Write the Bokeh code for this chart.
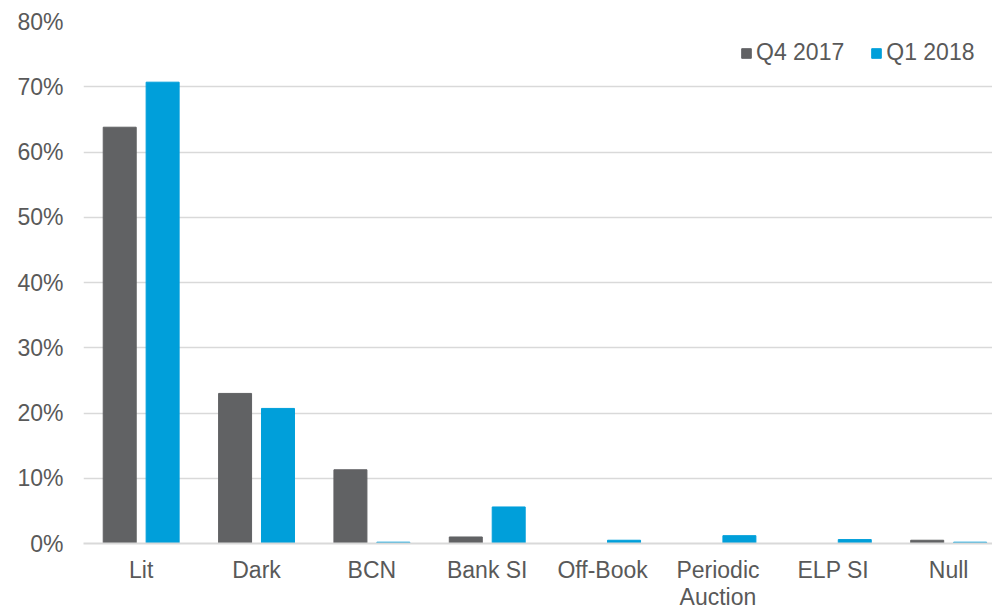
from bokeh.plotting import figure
from bokeh.models import ColumnDataSource, Range1d, FixedTicker, NumeralTickFormatter, Legend, LegendItem
from bokeh.transform import dodge
from bokeh.embed import file_html
from bokeh.resources import INLINE

categories = ["Lit", "Dark", "BCN", "Bank SI", "Off-Book", "Periodic\nAuction", "ELP SI", "Null"]
q4_2017 = [0.638, 0.230, 0.113, 0.010, 0.000, 0.000, 0.000, 0.005]
q1_2018 = [0.707, 0.207, 0.002, 0.056, 0.005, 0.012, 0.006, 0.002]
y_ticks = [0, 0.1, 0.2, 0.3, 0.4, 0.5, 0.6, 0.7, 0.8]
series_names = ["Q4 2017", "Q1 2018"]

GREY = "#616264"
BLUE = "#009FDA"
TEXT = "#595959"
GRID = "#D9D9D9"
FONT = "Liberation Sans"
FS = "23px"

xs = list(range(len(categories)))
src = ColumnDataSource(dict(x=xs, q4=q4_2017, q1=q1_2018))

p = figure(width=992, height=612, output_backend="svg", toolbar_location=None,
           x_range=Range1d(-0.5, 7.38), y_range=Range1d(0, 0.8),
           min_border_left=83, min_border_right=0, min_border_top=21, min_border_bottom=67)
p.outline_line_color = None
p.background_fill_color = "white"
p.border_fill_color = "white"

r1 = p.vbar(x=dodge("x", -0.186), top="q4", width=0.286, source=src,
            fill_color=GREY, line_color=GREY)
r2 = p.vbar(x=dodge("x", 0.186), top="q1", width=0.286, source=src,
            fill_color=BLUE, line_color=BLUE)

p.xgrid.grid_line_color = None
p.ygrid.grid_line_color = GRID
p.ygrid.grid_line_width = 1.3
p.ygrid.level = "underlay"

yax = p.yaxis[0]
yax.ticker = FixedTicker(ticks=y_ticks)
yax.formatter = NumeralTickFormatter(format="0%")
yax.axis_line_color = None
yax.major_tick_line_color = None
yax.minor_tick_line_color = None
yax.major_tick_out = 0
yax.major_tick_in = 0
yax.minor_tick_out = 0
yax.minor_tick_in = 0
yax.major_label_standoff = 20
yax.major_label_text_font = FONT
yax.major_label_text_font_size = FS
yax.major_label_text_color = TEXT

xax = p.xaxis[0]
xax.ticker = FixedTicker(ticks=xs)
xax.major_label_overrides = {i: c for i, c in zip(xs, categories)}
xax.axis_line_color = GRID
xax.axis_line_width = 2
xax.major_tick_line_color = None
xax.minor_tick_line_color = None
xax.major_tick_out = 0
xax.major_tick_in = 0
xax.minor_tick_out = 0
xax.minor_tick_in = 0
xax.major_label_standoff = 13
xax.major_label_text_font = FONT
xax.major_label_text_font_size = FS
xax.major_label_text_line_height = 1.05
xax.major_label_text_color = TEXT

legend = Legend(items=[LegendItem(label=series_names[0], renderers=[r1]),
                       LegendItem(label=series_names[1], renderers=[r2])],
                orientation="horizontal", location=(657, 477),
                border_line_color=None, background_fill_alpha=0,
                glyph_width=12, glyph_height=12, label_standoff=4, spacing=26,
                padding=0, margin=0,
                label_text_font=FONT, label_text_font_size=FS, label_text_color=TEXT)
p.add_layout(legend, "center")

open("out.html", "w").write(file_html(p, INLINE))
